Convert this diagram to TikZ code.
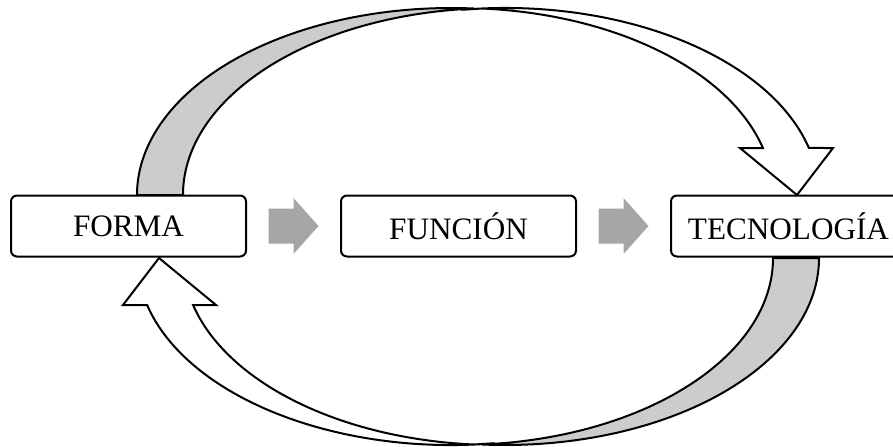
\documentclass[tikz,border=0pt]{standalone}
\usepackage{fontspec}
\setmainfont{Liberation Serif}
\usetikzlibrary{positioning,calc}

\begin{document}
\begin{tikzpicture}[
  x=0.5pt, y=-0.5pt,
  node distance=46.5pt,
  caja/.style={draw, line width=1pt, rounded corners=3pt, fill=white,
    minimum width=117.5pt, minimum height=30.5pt,
    font=\fontsize{15.6}{18}\selectfont},
  fondo/.style={draw, line width=1pt, fill=black!20},
  frente/.style={draw, line width=1pt, fill=white},
  paso/.style={fill=black!35}
]
  \useasboundingbox (0,0) rectangle (893,446);

  % curved arrows, the lower one is the upper one turned half a turn
  \foreach \giro in {0,180} {
    \begin{scope}[rotate around={\giro:(478,226.5)}]
      \filldraw[fondo] (137,195)
        arc[start angle=180, end angle=274.2, x radius=314, y radius=187]
        arc[start angle=265.8, end angle=180, x radius=314, y radius=187] -- cycle;
      \filldraw[frente] (461.3,9.8)
        arc[start angle=262, end angle=345.44, x radius=314, y radius=187]
        -- (833,148) -- (797,195) -- (740,148) -- (762.9,148)
        arc[start angle=345.44, end angle=274.2, x radius=314, y radius=187] -- cycle;
    \end{scope}
  }

  \node (forma) [caja] at (128.5,226) {FORMA};
  \node (funcion) [caja, right=of forma] {FUNCIÓN};
  \node (tecnologia) [caja, right=of funcion] {TECNOLOGÍA};

  % block arrows between the boxes
  \foreach \a/\b in {forma/funcion, funcion/tecnologia}
    \fill[paso] ($(\a.east)!0.5!(\b.west)$) ++(-25,-17.5) -- ++(25,0) -- ++(0,-10.5)
      -- ++(25,28) -- ++(-25,28) -- ++(0,-10.5) -- ++(-25,0) -- cycle;

\end{tikzpicture}
\end{document}
